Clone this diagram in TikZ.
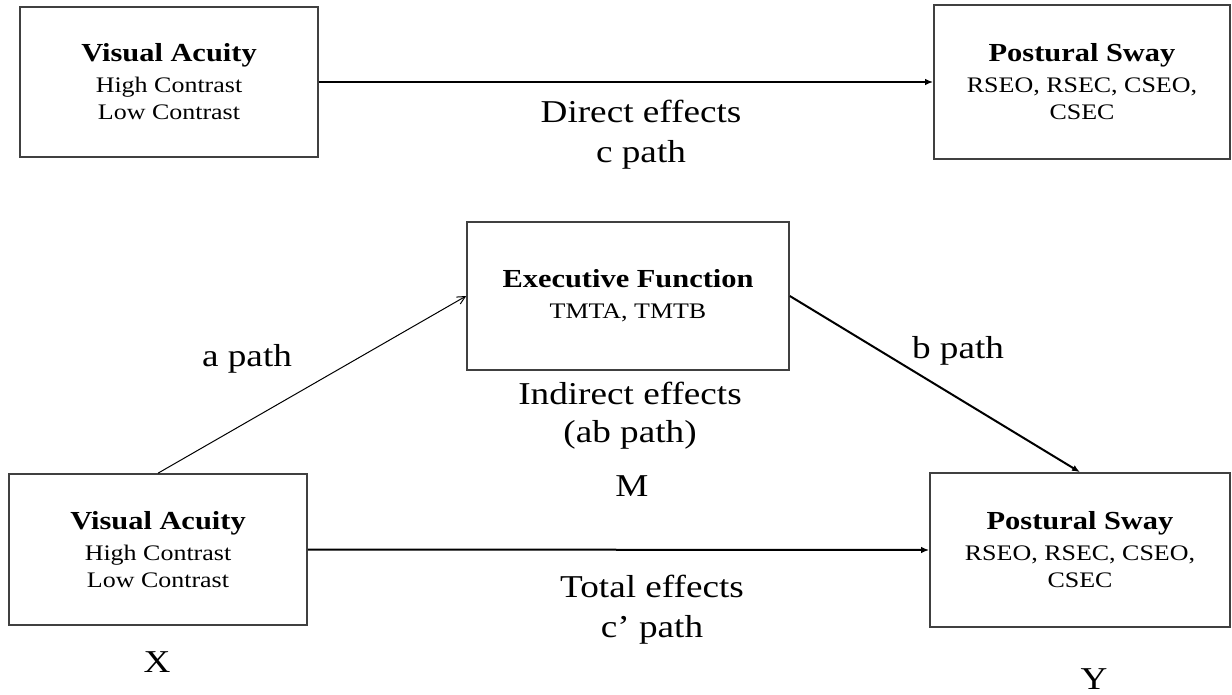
\documentclass[tikz,border=0pt]{standalone}
\usepackage{fontspec}
\setmainfont[FakeStretch=1.17]{Liberation Serif}
\usetikzlibrary{arrows.meta}

\newcommand{\boxhead}[1]{{\fontsize{13}{15}\selectfont\bfseries #1}}
\tikzset{
  varbox/.style={draw=black!75, line width=0.8pt, align=center,
    font=\fontsize{11.1}{13.5}\selectfont},
  pathlbl/.style={inner sep=0pt, align=center, font=\fontsize{15.9}{20}\selectfont},
  effarrow/.style={-{Latex[length=4pt,width=3.2pt]}, line width=1pt},
}

\begin{document}
\begin{tikzpicture}[x=0.5pt,y=-0.5pt] %Modelo de mediacion
            \useasboundingbox (0,0) rectangle (1232,695);

            % direct effects
            \node[varbox, minimum width=149pt, minimum height=75pt] (vaTop) at (169,82)
                {\boxhead{Visual Acuity}\\[2pt]High Contrast\\Low Contrast};
            \node[varbox, minimum width=148pt, minimum height=77pt] (psTop) at (1082,82)
                {\boxhead{Postural Sway}\\[2pt]RSEO, RSEC, CSEO,\\CSEC};
            \draw[effarrow] (vaTop.east) -- (psTop.west);
            \node[pathlbl] (direct) at (641,135) {Direct effects\\c path};

            % indirect and total effects
            \node[varbox, minimum width=161pt, minimum height=74pt] (ef) at (628,296)
                {\boxhead{Executive Function}\\[2pt]TMTA, TMTB};
            \node[varbox, minimum width=149pt, minimum height=75.5pt] (vaBot) at (158,549.5)
                {\boxhead{Visual Acuity}\\[2pt]High Contrast\\Low Contrast};
            \node[varbox, minimum width=150pt, minimum height=77pt] (psBot) at (1080,550)
                {\boxhead{Postural Sway}\\[2pt]RSEO, RSEC, CSEO,\\CSEC};

            \draw[-{Straight Barb[length=4pt,width=4pt]}, line width=0.5pt] (vaBot.north) -- (ef.west);
            \draw[effarrow] (ef.east) -- (psBot.north);
            \draw[effarrow] (vaBot.east) -- (psBot.west);

            \node[pathlbl] (apath) at (247,359) {a path};
            \node[pathlbl] (bpath) at (958,351) {b path};
            \node[pathlbl] (indirect) at (630,416) {Indirect effects\\[-1pt](ab path)};
            \node[pathlbl] (M) at (632,486) {M};
            \node[pathlbl] (total) at (652,610) {Total effects\\c' path};
            \node[pathlbl] (X) at (157,662) {X};
            \node[pathlbl] (Y) at (1094,679) {Y};
        \end{tikzpicture}
\end{document}
